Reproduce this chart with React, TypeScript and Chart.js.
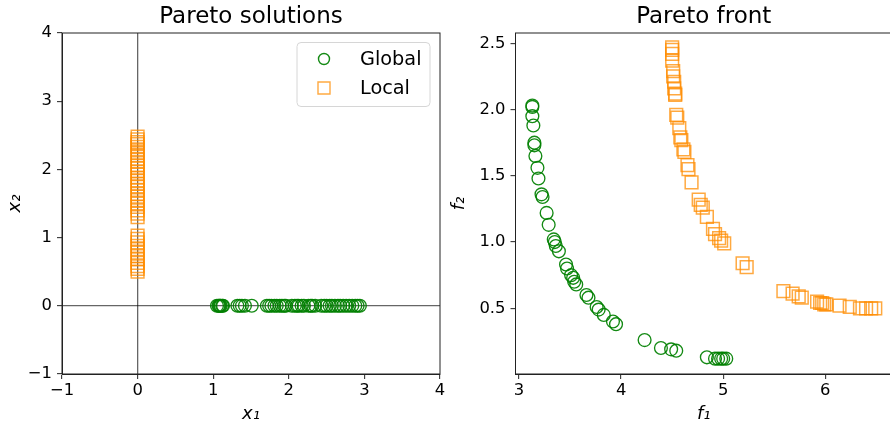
import React, { useEffect, useRef } from "react";
import { Chart, registerables } from "chart.js";
Chart.register(...registerables);

const FONT = "'DejaVu Sans', sans-serif";

// ---- Pareto solutions (decision space) ----
const globalX1 = [1.05, 1.07, 1.08, 1.09, 1.10, 1.12, 1.13, 1.32, 1.35, 1.38, 1.42, 1.51, 1.71, 1.74, 1.77, 1.81, 1.84, 1.88, 1.91, 1.94, 1.96, 2.04, 2.08, 2.11, 2.13, 2.17, 2.20, 2.26, 2.29, 2.31, 2.35, 2.43, 2.47, 2.50, 2.54, 2.57, 2.61, 2.65, 2.68, 2.72, 2.76, 2.80, 2.84, 2.88, 2.91, 2.94];
const globalX2Value = 0;
const localX1Value = 0;
const localX2 = [2.48, 2.44, 2.40, 2.37, 2.33, 2.28, 2.24, 2.20, 2.15, 2.11, 2.06, 2.02, 1.97, 1.93, 1.88, 1.84, 1.79, 1.75, 1.70, 1.64, 1.60, 1.55, 1.50, 1.45, 1.40, 1.35, 1.30, 1.03, 0.98, 0.93, 0.88, 0.83, 0.78, 0.73, 0.68, 0.63, 0.58, 0.54, 0.50];

// ---- Pareto front (objective space) ----
const globalF1 = [3.13, 3.13, 3.13, 3.14, 3.15, 3.15, 3.16, 3.18, 3.19, 3.22, 3.23, 3.27, 3.29, 3.34, 3.35, 3.36, 3.39, 3.46, 3.47, 3.51, 3.53, 3.54, 3.56, 3.66, 3.68, 3.76, 3.78, 3.83, 3.92, 3.95, 4.23, 4.39, 4.49, 4.54, 4.84, 4.92, 4.95, 4.98, 5.00, 5.03];
const globalF2 = [2.03, 2.02, 1.95, 1.88, 1.75, 1.73, 1.65, 1.56, 1.48, 1.36, 1.34, 1.22, 1.13, 1.02, 1.00, 0.97, 0.93, 0.83, 0.80, 0.75, 0.73, 0.70, 0.68, 0.60, 0.58, 0.51, 0.49, 0.45, 0.40, 0.38, 0.26, 0.20, 0.19, 0.18, 0.13, 0.12, 0.12, 0.12, 0.12, 0.12];
const localF1 = [4.50, 4.50, 4.50, 4.50, 4.51, 4.51, 4.52, 4.52, 4.53, 4.53, 4.54, 4.55, 4.57, 4.58, 4.59, 4.61, 4.62, 4.65, 4.66, 4.69, 4.76, 4.78, 4.80, 4.84, 4.90, 4.92, 4.96, 4.98, 5.01, 5.19, 5.23, 5.59, 5.68, 5.74, 5.77, 5.92, 5.95, 5.97, 5.99, 6.01, 6.14, 6.24, 6.34, 6.40, 6.45, 6.49];
const localF2 = [2.47, 2.45, 2.42, 2.37, 2.29, 2.25, 2.21, 2.16, 2.11, 2.12, 1.96, 1.94, 1.86, 1.79, 1.77, 1.70, 1.68, 1.58, 1.55, 1.45, 1.32, 1.28, 1.26, 1.19, 1.10, 1.06, 1.03, 1.01, 0.99, 0.84, 0.81, 0.63, 0.61, 0.59, 0.58, 0.55, 0.54, 0.54, 0.53, 0.53, 0.52, 0.51, 0.50, 0.50, 0.50, 0.50];

// ---- ticks / labels ----
const solTicks = [-1, 0, 1, 2, 3, 4];
const frontXTicks = [3, 4, 5, 6];
const frontYTicks = [0.5, 1.0, 1.5, 2.0, 2.5];
const seriesLabels = ["Global", "Local"];
const titles = ["Pareto solutions", "Pareto front"];

const GREEN = "rgba(0,128,0,0.92)";
const ORANGE = "rgba(255,140,0,0.75)";

const framePlugin = {
  id: "frame",
  afterDatasetsDraw(chart: any) {
    const { ctx, chartArea } = chart;
    const { left, top, right, bottom } = chartArea;
    ctx.save();
    ctx.strokeStyle = "#222";
    ctx.lineWidth = 1;
    ctx.strokeRect(left, top, right - left, bottom - top);
    ctx.restore();
  },
};

const boxLegendPlugin = {
  id: "boxLegend",
  afterDraw(chart: any) {
    const { ctx, chartArea } = chart;
    const w = 133, h = 64;
    const x0 = chartArea.right - 10 - w;
    const y0 = chartArea.top + 9.5;
    ctx.save();
    ctx.beginPath();
    if (ctx.roundRect) ctx.roundRect(x0, y0, w, h, 4);
    else ctx.rect(x0, y0, w, h);
    ctx.fillStyle = "rgba(255,255,255,0.85)";
    ctx.fill();
    ctx.strokeStyle = "#d6d6d6";
    ctx.lineWidth = 1;
    ctx.stroke();
    const ds = chart.data.datasets;
    ds.forEach((d: any, i: number) => {
      const cy = y0 + 16.5 + i * 29;
      const cx = x0 + 27;
      ctx.strokeStyle = d.borderColor;
      ctx.lineWidth = 1.4;
      ctx.beginPath();
      if (d.pointStyle === "circle") {
        ctx.arc(cx, cy, 5.5, 0, Math.PI * 2);
      } else {
        ctx.rect(cx - 6, cy - 6, 12, 12);
      }
      ctx.stroke();
      ctx.fillStyle = "#000";
      ctx.font = `19.3px ${FONT}`;
      ctx.textAlign = "left";
      ctx.textBaseline = "middle";
      ctx.fillText(d.label, x0 + 63, cy + 1);
    });
    ctx.restore();
  },
};

const minusFmt = (v: any) => String(v).replace("-", "\u2212");

function axis(opts: any) {
  const { min, max, ticks, fmt, title, isX, size, titlePad, zeroLine } = opts;
  return {
    type: "linear",
    min,
    max,
    afterBuildTicks: (s: any) => {
      s.ticks = ticks.map((v: number) => ({ value: v }));
    },
    afterFit: (s: any) => {
      if (isX) s.height = size;
      else s.width = size;
      s.paddingLeft = 0;
      s.paddingRight = 0;
      s.paddingTop = 0;
      s.paddingBottom = 0;
    },
    ticks: {
      font: { family: FONT, size: 16.4 },
      color: "#000",
      padding: isX ? 2 : 5,
      autoSkip: false,
      maxRotation: 0,
      callback: fmt,
    },
    grid: {
      color: (c: any) =>
        zeroLine && c.tick && c.tick.value === 0 ? "rgba(0,0,0,0.6)" : "rgba(0,0,0,0)",
      lineWidth: 1.3,
      drawTicks: true,
      tickLength: 5,
      tickColor: "#222",
      tickWidth: 1,
    },
    border: { display: true, color: "#222", width: 1 },
    title: {
      display: true,
      text: title,
      font: { family: FONT, size: 18, style: "italic" },
      color: "#000",
      padding: titlePad,
    },
  };
}

function makeTitle(text: string) {
  return {
    display: true,
    text,
    fullSize: false,
    font: { family: FONT, size: 23, weight: "normal" },
    color: "#000",
    padding: { top: 3, bottom: 2.4 },
  };
}

export default function App() {
  const leftRef = useRef<HTMLCanvasElement>(null);
  const rightRef = useRef<HTMLCanvasElement>(null);

  useEffect(() => {
    const left = new Chart(leftRef.current as HTMLCanvasElement, {
      type: "scatter",
      data: {
        datasets: [
          {
            label: seriesLabels[0],
            data: globalX1.map((x) => ({ x, y: globalX2Value })),
            pointStyle: "circle",
            pointRadius: 6.4,
            pointHoverRadius: 6.4,
            borderColor: GREEN,
            backgroundColor: "rgba(0,0,0,0)",
            pointBorderWidth: 1.35,
          },
          {
            label: seriesLabels[1],
            data: localX2.map((y) => ({ x: localX1Value, y })),
            pointStyle: "rect",
            pointRadius: 9,
            pointHoverRadius: 9,
            borderColor: ORANGE,
            backgroundColor: "rgba(0,0,0,0)",
            pointBorderWidth: 1.5,
          },
        ],
      },
      options: {
        animation: false,
        responsive: false,
        layout: { autoPadding: false, padding: { left: 0, right: 5, top: 0, bottom: 0 } },
        plugins: {
          legend: { display: false },
          tooltip: { enabled: false },
          title: makeTitle(titles[0]),
        },
        scales: {
          x: axis({ min: -1, max: 4, ticks: solTicks, fmt: minusFmt, title: "x\u2081", isX: true, size: 52, titlePad: { top: 0, bottom: 1.2 }, zeroLine: true }),
          y: axis({ min: -1, max: 4, ticks: solTicks, fmt: minusFmt, title: "x\u2082", isX: false, size: 62, titlePad: { top: 4.2, bottom: 0 }, zeroLine: true }),
        },
      } as any,
      plugins: [framePlugin, boxLegendPlugin],
    });

    const right = new Chart(rightRef.current as HTMLCanvasElement, {
      type: "scatter",
      data: {
        datasets: [
          {
            label: seriesLabels[0],
            data: globalF1.map((x, i) => ({ x, y: globalF2[i] })),
            pointStyle: "circle",
            pointRadius: 6.4,
            pointHoverRadius: 6.4,
            borderColor: GREEN,
            backgroundColor: "rgba(0,0,0,0)",
            pointBorderWidth: 1.35,
          },
          {
            label: seriesLabels[1],
            data: localF1.map((x, i) => ({ x, y: localF2[i] })),
            pointStyle: "rect",
            pointRadius: 9,
            pointHoverRadius: 9,
            borderColor: ORANGE,
            backgroundColor: "rgba(0,0,0,0)",
            pointBorderWidth: 1.5,
          },
        ],
      },
      options: {
        animation: false,
        responsive: false,
        layout: { autoPadding: false, padding: { left: 0, right: 3, top: 0, bottom: 0 } },
        plugins: {
          legend: { display: false },
          tooltip: { enabled: false },
          title: makeTitle(titles[1]),
        },
        scales: {
          x: axis({ min: 2.965, max: 6.654, ticks: frontXTicks, fmt: (v: any) => String(v), title: "f\u2081", isX: true, size: 52, titlePad: { top: 0, bottom: 1.2 }, zeroLine: false }),
          y: axis({ min: 0.004, max: 2.578, ticks: frontYTicks, fmt: (v: any) => Number(v).toFixed(1), title: "f\u2082", isX: false, size: 70.5, titlePad: { top: 3.2, bottom: 0 }, zeroLine: false }),
        },
      } as any,
      plugins: [framePlugin],
    });

    return () => {
      left.destroy();
      right.destroy();
    };
  }, []);

  return (
    <div style={{ position: "fixed", left: 0, top: 0, width: 890, height: 426, overflow: "hidden", background: "#fff" }}>
      <canvas ref={leftRef} width={445} height={426} style={{ position: "absolute", left: 0, top: 0, width: 445, height: 426 }} />
      <canvas ref={rightRef} width={450} height={426} style={{ position: "absolute", left: 445, top: 0, width: 450, height: 426 }} />
    </div>
  );
}
